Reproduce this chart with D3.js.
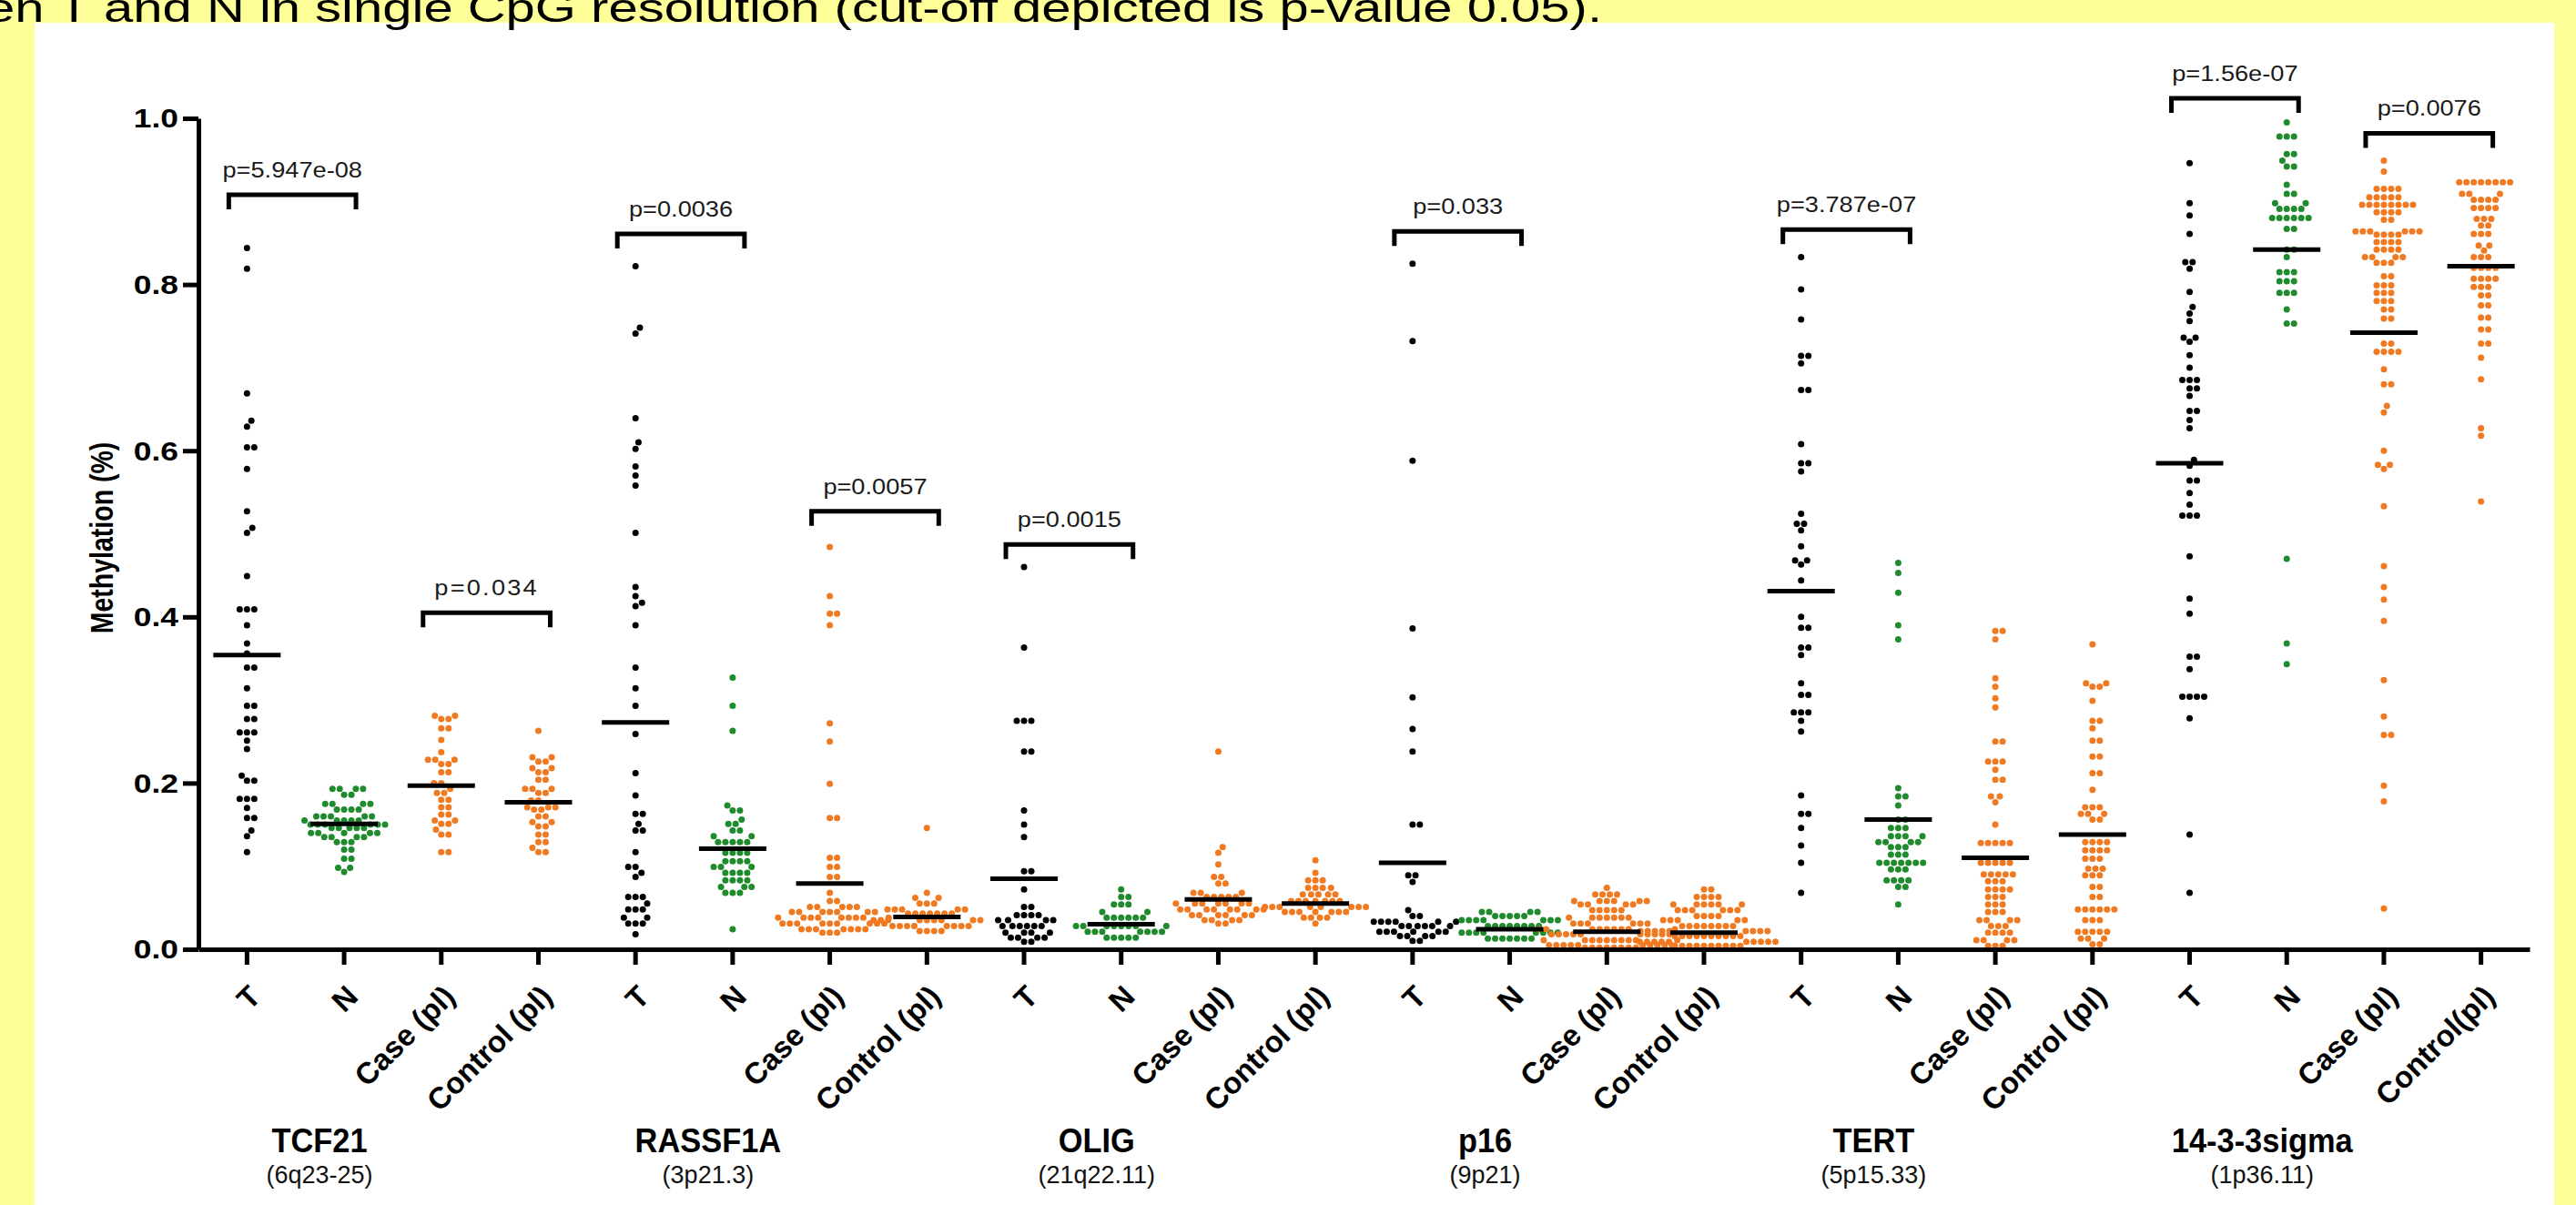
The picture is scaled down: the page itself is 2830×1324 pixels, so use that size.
<!DOCTYPE html>
<meta charset="utf-8">
<head>
<title>Methylation T / N / plasma scatter</title>
<script src="https://cdn.jsdelivr.net/npm/d3@7"></script>
<style>
  body { margin: 0; background: #ffff99; }
  svg text { font-family: "Liberation Sans", Arial, sans-serif; }
</style>
</head>
<body>
<div id="chart"></div>
<script>

const width = 2830;
const height = 1324;

const genes = ["TCF21", "RASSF1A", "OLIG", "p16", "TERT", "14-3-3sigma"];
const loci = ["(6q23-25)", "(3p21.3)", "(21q22.11)", "(9p21)", "(5p15.33)", "(1p36.11)"];
const sampleTypes = ["T", "N", "Case (pl)", "Control (pl)"];
const lastSampleLabel = "Control(pl)";
const yTicks = [0, 0.2, 0.4, 0.6, 0.8, 1.0];

// dot rows: [methylation, number of dots at that level]
const tcf21T = [[0.844,1],[0.819,1],[0.669,1],[0.636,1],[0.629,1],[0.604,2],[0.578,1],[0.527,1],[0.507,1],[0.501,1],[0.449,1],[0.409,3],[0.390,1],[0.368,1],[0.356,1],[0.339,2],[0.314,1],[0.293,2],[0.277,2],[0.261,3],[0.251,1],[0.241,1],[0.209,1],[0.203,2],[0.181,3],[0.170,1],[0.158,2],[0.143,1],[0.136,1],[0.117,1]];
const tcf21N = [[0.193,4],[0.186,2],[0.175,4],[0.168,4],[0.160,5],[0.155,5],[0.150,6],[0.146,5],[0.140,5],[0.135,4],[0.129,3],[0.120,2],[0.109,2],[0.098,2],[0.093,1]];
const tcf21Case = [[0.281,2],[0.277,2],[0.266,2],[0.252,1],[0.237,1],[0.228,3],[0.223,2],[0.213,2],[0.200,2],[0.193,1],[0.188,2],[0.180,2],[0.171,2],[0.162,2],[0.155,2],[0.151,2],[0.144,1],[0.138,2],[0.117,2]];
const tcf21Control = [[0.263,1],[0.231,2],[0.226,2],[0.218,2],[0.213,2],[0.204,2],[0.193,3],[0.188,2],[0.179,2],[0.171,3],[0.168,2],[0.160,2],[0.153,2],[0.148,2],[0.138,2],[0.129,2],[0.122,1],[0.117,2]];

const rassf1aT = [[0.822,1],[0.748,1],[0.741,1],[0.639,1],[0.610,1],[0.602,1],[0.581,1],[0.570,1],[0.558,1],[0.501,1],[0.436,1],[0.425,1],[0.417,1],[0.413,1],[0.390,1],[0.339,1],[0.314,1],[0.293,1],[0.259,1],[0.212,1],[0.185,1],[0.163,2],[0.151,1],[0.143,2],[0.117,1],[0.099,2],[0.092,1],[0.087,1],[0.063,3],[0.055,1],[0.048,3],[0.038,2],[0.031,3],[0.018,1]];
const rassf1aN = [[0.327,1],[0.293,1],[0.263,1],[0.173,1],[0.167,2],[0.156,1],[0.151,2],[0.143,2],[0.136,2],[0.129,5],[0.116,4],[0.106,4],[0.099,3],[0.092,4],[0.083,4],[0.075,3],[0.068,3],[0.024,1]];
const rassf1aCase = [[0.484,1],[0.425,1],[0.404,2],[0.390,1],[0.272,1],[0.250,1],[0.199,1],[0.158,2],[0.110,2],[0.099,2],[0.087,2],[0.068,1],[0.058,2],[0.051,5],[0.045,7],[0.038,9],[0.031,9],[0.024,7],[0.020,3]];
const rassf1aControl = [[0.146,1],[0.068,1],[0.062,2],[0.055,3],[0.048,5],[0.043,7],[0.035,9],[0.028,8],[0.022,4]];

const oligT = [[0.460,1],[0.363,1],[0.275,3],[0.238,2],[0.167,1],[0.150,1],[0.135,1],[0.094,2],[0.072,1],[0.051,2],[0.041,4],[0.035,4],[0.028,6],[0.020,4],[0.014,4],[0.009,2]];
const oligN = [[0.072,1],[0.063,2],[0.054,3],[0.045,2],[0.038,6],[0.028,8],[0.021,7],[0.014,5]];
const oligCase = [[0.238,1],[0.123,1],[0.116,1],[0.102,1],[0.087,2],[0.079,2],[0.068,3],[0.063,5],[0.055,7],[0.048,8],[0.041,6],[0.035,4],[0.031,2]];
const oligControl = [[0.107,1],[0.092,1],[0.083,3],[0.074,4],[0.066,5],[0.058,7],[0.051,8],[0.045,7],[0.038,4],[0.031,1]];

const p16T = [[0.825,1],[0.732,1],[0.588,1],[0.386,1],[0.303,1],[0.265,1],[0.238,1],[0.150,2],[0.089,2],[0.081,1],[0.047,1],[0.040,2],[0.033,6],[0.028,6],[0.021,6],[0.016,4],[0.010,2]];
const p16N = [[0.045,4],[0.040,5],[0.035,7],[0.028,8],[0.020,8],[0.013,7]];
const p16Case = [[0.074,1],[0.066,4],[0.058,6],[0.054,4],[0.047,5],[0.038,7],[0.031,6],[0.024,9],[0.018,10],[0.011,10],[0.005,10],[0.002,8]];
const p16Control = [[0.072,2],[0.063,4],[0.054,6],[0.047,6],[0.040,4],[0.035,5],[0.028,8],[0.022,9],[0.016,10],[0.009,10],[0.004,10]];

const tertT = [[0.833,1],[0.794,1],[0.758,1],[0.714,2],[0.705,1],[0.673,2],[0.608,1],[0.585,2],[0.575,1],[0.524,1],[0.512,2],[0.504,1],[0.485,1],[0.468,2],[0.463,1],[0.444,1],[0.400,1],[0.387,2],[0.363,2],[0.354,1],[0.320,1],[0.306,2],[0.285,3],[0.275,1],[0.262,1],[0.185,1],[0.163,2],[0.146,1],[0.125,1],[0.104,1],[0.068,1]];
const tertN = [[0.465,1],[0.453,1],[0.429,1],[0.390,1],[0.373,1],[0.194,1],[0.184,2],[0.173,1],[0.156,2],[0.146,3],[0.136,4],[0.129,4],[0.123,3],[0.114,3],[0.104,7],[0.096,3],[0.083,4],[0.075,2],[0.054,1]];
const tertCase = [[0.383,2],[0.373,1],[0.326,1],[0.316,1],[0.302,1],[0.291,1],[0.250,2],[0.226,3],[0.216,1],[0.204,2],[0.184,2],[0.177,1],[0.150,1],[0.128,5],[0.104,5],[0.090,5],[0.082,3],[0.072,4],[0.063,3],[0.054,3],[0.045,3],[0.035,4],[0.028,3],[0.020,4],[0.011,4],[0.004,3]];
const tertControl = [[0.367,1],[0.320,2],[0.316,2],[0.299,1],[0.275,2],[0.266,1],[0.251,2],[0.232,2],[0.212,2],[0.192,1],[0.171,3],[0.163,3],[0.156,2],[0.129,4],[0.119,4],[0.109,3],[0.097,3],[0.089,3],[0.075,2],[0.063,2],[0.048,6],[0.035,3],[0.021,5],[0.013,3],[0.006,2]];

const sigmaT = [[0.946,1],[0.898,1],[0.883,1],[0.861,1],[0.827,2],[0.819,1],[0.791,1],[0.773,1],[0.765,1],[0.756,1],[0.736,2],[0.731,1],[0.715,1],[0.700,1],[0.685,3],[0.675,2],[0.666,1],[0.648,2],[0.637,1],[0.627,1],[0.589,1],[0.582,1],[0.564,2],[0.549,1],[0.535,1],[0.522,3],[0.473,1],[0.422,1],[0.404,1],[0.352,2],[0.337,1],[0.304,4],[0.278,1],[0.138,1],[0.068,1]];
const sigmaN = [[0.995,1],[0.978,3],[0.957,2],[0.949,1],[0.942,2],[0.920,1],[0.909,2],[0.898,2],[0.891,4],[0.880,6],[0.867,2],[0.842,2],[0.833,1],[0.815,3],[0.804,3],[0.790,3],[0.770,1],[0.753,2],[0.470,1],[0.368,1],[0.343,1]];
const sigmaCase = [[0.949,1],[0.936,1],[0.915,4],[0.905,5],[0.896,8],[0.887,4],[0.878,2],[0.864,6],[0.860,4],[0.851,4],[0.842,4],[0.833,4],[0.826,3],[0.810,2],[0.799,3],[0.790,3],[0.780,3],[0.770,2],[0.759,2],[0.729,2],[0.719,4],[0.698,1],[0.680,2],[0.654,1],[0.646,1],[0.600,1],[0.583,2],[0.578,1],[0.533,1],[0.461,1],[0.436,1],[0.421,1],[0.395,1],[0.324,1],[0.280,1],[0.258,2],[0.197,1],[0.178,1],[0.049,1]];
const sigmaControl = [[0.923,8],[0.909,3],[0.902,4],[0.892,4],[0.879,3],[0.871,2],[0.861,3],[0.847,2],[0.841,1],[0.833,3],[0.820,4],[0.807,4],[0.797,3],[0.787,2],[0.775,2],[0.760,2],[0.746,2],[0.729,2],[0.712,1],[0.686,1],[0.627,1],[0.618,1],[0.539,1]];

const groupRows = [
    tcf21T, tcf21N, tcf21Case, tcf21Control,
    rassf1aT, rassf1aN, rassf1aCase, rassf1aControl,
    oligT, oligN, oligCase, oligControl,
    p16T, p16N, p16Case, p16Control,
    tertT, tertN, tertCase, tertControl,
    sigmaT, sigmaN, sigmaCase, sigmaControl
];

// horizontal line drawn in each column (group mean as shown)
const groupMeans = [
    0.354, 0.151, 0.197, 0.177,
    0.273, 0.121, 0.079, 0.039,
    0.085, 0.030, 0.060, 0.055,
    0.104, 0.024, 0.021, 0.020,
    0.431, 0.156, 0.110, 0.138,
    0.585, 0.842, 0.742, 0.822
];

// significance brackets: columns compared, p label, height in data units
const pPairs = [[0, 1], [2, 3], [4, 5], [6, 7], [8, 9], [12, 13], [16, 17], [20, 21], [22, 23]];
const pLabels = ["p=5.947e-08", "p=0.034", "p=0.0036", "p=0.0057", "p=0.0015", "p=0.033", "p=3.787e-07", "p=1.56e-07", "p=0.0076"];
const pLevels = [0.908, 0.405, 0.861, 0.527, 0.487, 0.864, 0.866, 1.024, 0.982];

const typeColors = ["#000000", "#1f8b2c", "#f07a22", "#f07a22"];

const svg = d3.select("#chart").append("svg")
    .attr("width", width)
    .attr("height", height);

svg.append("rect")
    .attr("width", width).attr("height", height)
    .attr("fill", "#ffff99");

svg.append("rect")
    .attr("x", 38).attr("y", 25)
    .attr("width", 2768).attr("height", height - 25)
    .attr("fill", "#ffffff");

svg.append("text")
    .attr("x", -16).attr("y", 24)
    .attr("font-size", 45)
    .attr("textLength", 1776)
    .attr("lengthAdjust", "spacingAndGlyphs")
    .attr("fill", "#000")
    .text("en T and N in single CpG resolution (cut-off depicted is p-value 0.05).");

const groupIds = d3.range(groupRows.length);

const x = d3.scaleBand()
    .domain(groupIds)
    .range([218, 2779]);

const y = d3.scaleLinear()
    .domain([0, 1])
    .range([1043, 130]);

const cx = function(i) { return x(i) + x.bandwidth() / 2; };

// simple beeswarm: every dot goes as close to the column centre as it can without overlap
function swarm(values, gap) {
    const placed = [];
    values.forEach(function(v) {
        const py = y(v);
        const blocked = [];
        placed.forEach(function(p) {
            const dy = Math.abs(p.y - py);
            if (dy < gap) {
                const dx = Math.sqrt(gap * gap - dy * dy);
                blocked.push([p.dx - dx, p.dx + dx]);
            }
        });
        const candidates = [0];
        blocked.forEach(function(b) { candidates.push(b[0], b[1]); });
        candidates.sort(function(a, b) { return Math.abs(a) - Math.abs(b) || b - a; });
        const dx = candidates.find(function(c) {
            return blocked.every(function(b) { return c <= b[0] + 1e-6 || c >= b[1] - 1e-6; });
        });
        placed.push({ dx: dx, y: py, v: v });
    });
    return placed;
}

const dotGroups = svg.append("g").attr("class", "dots")
    .selectAll("g")
    .data(groupIds).enter()
    .append("g")
        .attr("transform", function(i) { return `translate(${cx(i)},0)`; })
        .attr("fill", function(i) { return typeColors[i % 4]; });

dotGroups.selectAll("circle")
    .data(function(i) {
        const values = [];
        groupRows[i].forEach(function(r) { for (let k = 0; k < r[1]; k++) values.push(r[0]); });
        values.sort(d3.ascending);
        return swarm(values, 8);
    }).enter()
    .append("circle")
        .attr("cx", function(d) { return d.dx; })
        .attr("cy", function(d) { return d.y; })
        .attr("r", 3.5);

svg.append("g").attr("class", "means")
    .selectAll("line")
    .data(groupIds).enter()
    .append("line")
        .attr("x1", function(i) { return cx(i) - 37; })
        .attr("x2", function(i) { return cx(i) + 37; })
        .attr("y1", function(i) { return y(groupMeans[i]); })
        .attr("y2", function(i) { return y(groupMeans[i]); })
        .attr("stroke", "#000")
        .attr("stroke-width", 5);

// axes
const yAxis = svg.append("g")
    .attr("transform", `translate(${x.range()[0]},0)`)
    .call(d3.axisLeft(y).tickValues(yTicks).tickFormat(d3.format(".1f")).tickSize(17).tickSizeOuter(0));

yAxis.select(".domain").attr("stroke-width", 5).attr("stroke", "#000");
yAxis.selectAll(".tick line").attr("stroke-width", 5).attr("stroke", "#000");
yAxis.selectAll(".tick text")
    .attr("x", null).attr("dy", null)
    .attr("text-anchor", "end")
    .attr("dominant-baseline", "central")
    .attr("transform", "translate(-22,0) scale(1.2,1)")
    .attr("font-size", 29.5)
    .attr("font-weight", "bold")
    .attr("font-family", "'Liberation Sans', Arial, sans-serif")
    .attr("fill", "#000");

const xAxis = svg.append("g")
    .attr("transform", `translate(0,${y(0)})`)
    .call(d3.axisBottom(x).tickSize(17).tickSizeOuter(0).tickFormat(""));

xAxis.select(".domain").attr("stroke-width", 5).attr("stroke", "#000");
xAxis.selectAll(".tick line").attr("stroke-width", 5).attr("stroke", "#000");

svg.append("text")
    .attr("transform", "translate(113,591) scale(1.2,1) rotate(-90)")
    .attr("text-anchor", "middle")
    .attr("dominant-baseline", "central")
    .attr("font-size", 28.5)
    .attr("font-weight", "bold")
    .text("Methylation (%)");

svg.append("g").attr("class", "sample-labels")
    .selectAll("text")
    .data(groupIds).enter()
    .append("text")
        .attr("transform", function(i) { return `translate(${cx(i) + 17},1097) rotate(-45)`; })
        .attr("text-anchor", "end")
        .attr("font-size", 33)
        .attr("font-weight", "bold")
        .text(function(i) { return i === groupIds.length - 1 ? lastSampleLabel : sampleTypes[i % 4]; });

const geneLabels = svg.append("g").attr("class", "gene-labels")
    .selectAll("g")
    .data(genes).enter()
    .append("g")
        .attr("transform", function(d, g) { return `translate(${cx(g * 4 + 1) - 27},0)`; });

geneLabels.append("text")
    .attr("transform", "translate(0,1266) scale(0.93,1)")
    .attr("text-anchor", "middle")
    .attr("font-size", 37)
    .attr("font-weight", "bold")
    .text(function(d) { return d; });

geneLabels.append("text")
    .attr("transform", "translate(0,1300)")
    .attr("text-anchor", "middle")
    .attr("font-size", 27)
    .attr("fill", "#111")
    .text(function(d, g) { return loci[g]; });

// significance brackets
const brackets = svg.append("g").attr("class", "brackets")
    .selectAll("g")
    .data(pPairs).enter()
    .append("g");

brackets.append("path")
    .attr("d", function(p, k) {
        const x0 = cx(p[0]) - 20;
        const x1 = cx(p[1]) + 13;
        const by = y(pLevels[k]);
        return `M${x0},${by + 16}V${by}H${x1}V${by + 16}`;
    })
    .attr("fill", "none")
    .attr("stroke", "#000")
    .attr("stroke-width", 5);

brackets.append("text")
    .attr("transform", function(p, k) {
        const mid = (cx(p[0]) - 20 + cx(p[1]) + 13) / 2;
        return `translate(${mid},${y(pLevels[k]) - 19}) scale(1.11,1)`;
    })
    .attr("text-anchor", "middle")
    .attr("font-size", 24.5)
    .attr("fill", "#1a1a1a")
    .attr("font-family", function(p, k) { return pLabels[k] === "p=0.034" ? "'DejaVu Sans', sans-serif" : null; })
    .attr("letter-spacing", function(p, k) { return pLabels[k] === "p=0.034" ? 2 : null; })
    .text(function(p, k) { return pLabels[k]; });

</script>
</body>
